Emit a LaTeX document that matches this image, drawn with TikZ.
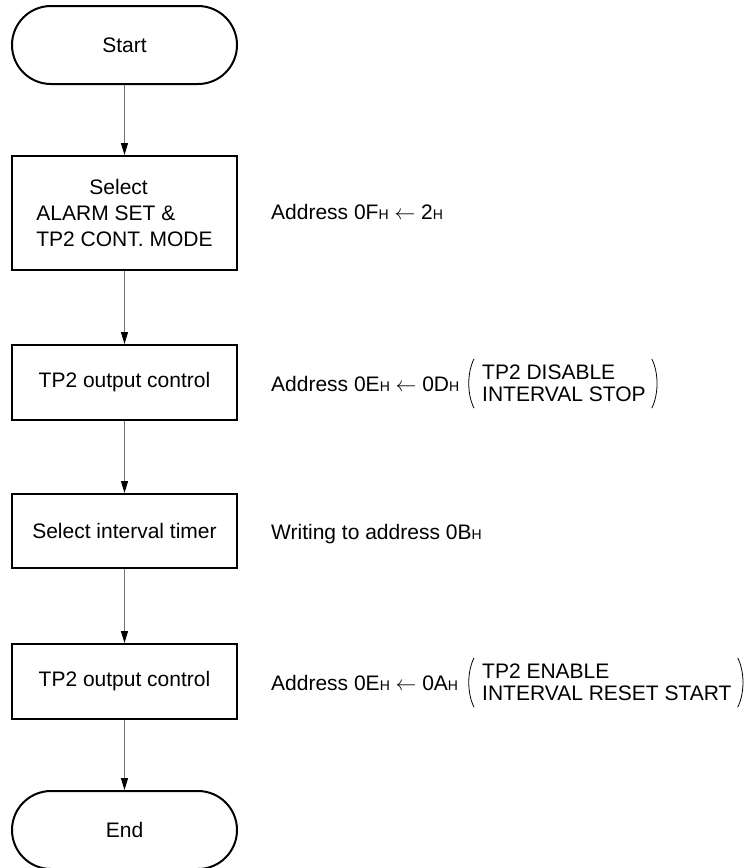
\documentclass[tikz,border=0pt]{standalone}
\usepackage{fontspec}
\setmainfont{Liberation Sans}
\usetikzlibrary{arrows.meta}
\newcommand{\hsub}{{\fontsize{14}{14}\selectfont H}}
\begin{document}
\begin{tikzpicture}[x=1pt,y=-1pt,
  every node/.style={font=\fontsize{21}{26}\selectfont},
  box/.style={draw, line width=2pt, minimum width=225pt, inner sep=0pt},
  term/.style={draw, line width=2pt, rounded corners=39pt, minimum width=225pt, minimum height=78pt, inner sep=0pt},
  conn/.style={draw=black!55, line width=1pt, -{Triangle[length=12pt,width=7pt,color=black]}},
  note/.style={anchor=base west, inner sep=0pt},
  pgroup/.style={anchor=west, inner sep=0pt, align=left, font=\fontsize{21}{22}\selectfont},
  paren/.style={draw, line width=0.8pt}]
\useasboundingbox (0,0) rectangle (750,868);
\node[term] (start) at (124.5,45) {Start};
\node[box, minimum height=114pt, align=left] (b1) at (124.5,213) {\hspace*{53pt}Select\\ALARM SET \&\\TP2 CONT. MODE};
\node[box, minimum height=75pt] (b2) at (124.5,382.5) {TP2 output control};
\node[box, minimum height=74pt] (b3) at (124.5,531) {Select interval timer};
\node[box, minimum height=75pt] (b4) at (124.5,681.5) {TP2 output control};
\node[term] (end) at (124.5,830) {End};
\draw[conn] (start) -- (b1);
\draw[conn] (b1) -- (b2);
\draw[conn] (b2) -- (b3);
\draw[conn] (b3) -- (b4);
\draw[conn] (b4) -- (end);
\node[note] (n1) at (271,219) {Address 0F\hsub{} $\leftarrow$ 2\hsub};
\node[note] (n2) at (271,391) {Address 0E\hsub{} $\leftarrow$ 0D\hsub};
\node[pgroup] (p2) at (482,383.5) {TP2 DISABLE\\INTERVAL STOP};
\node[note] (n3) at (271,539) {Writing to address 0B\hsub};
\node[note] (n4) at (271,690) {Address 0E\hsub{} $\leftarrow$ 0A\hsub};
\node[pgroup] (p4) at (482,682.5) {TP2 ENABLE\\INTERVAL RESET START};
\foreach \p in {p2,p4}{
  \draw[paren] ([xshift=-8pt,yshift=6pt]\p.north west) .. controls +(-7pt,-14pt) and +(-7pt,14pt) .. ([xshift=-8pt,yshift=-6pt]\p.south west);
  \draw[paren] ([xshift=6pt,yshift=6pt]\p.north east) .. controls +(7pt,-14pt) and +(7pt,14pt) .. ([xshift=6pt,yshift=-6pt]\p.south east);
}
\end{tikzpicture}
\end{document}
